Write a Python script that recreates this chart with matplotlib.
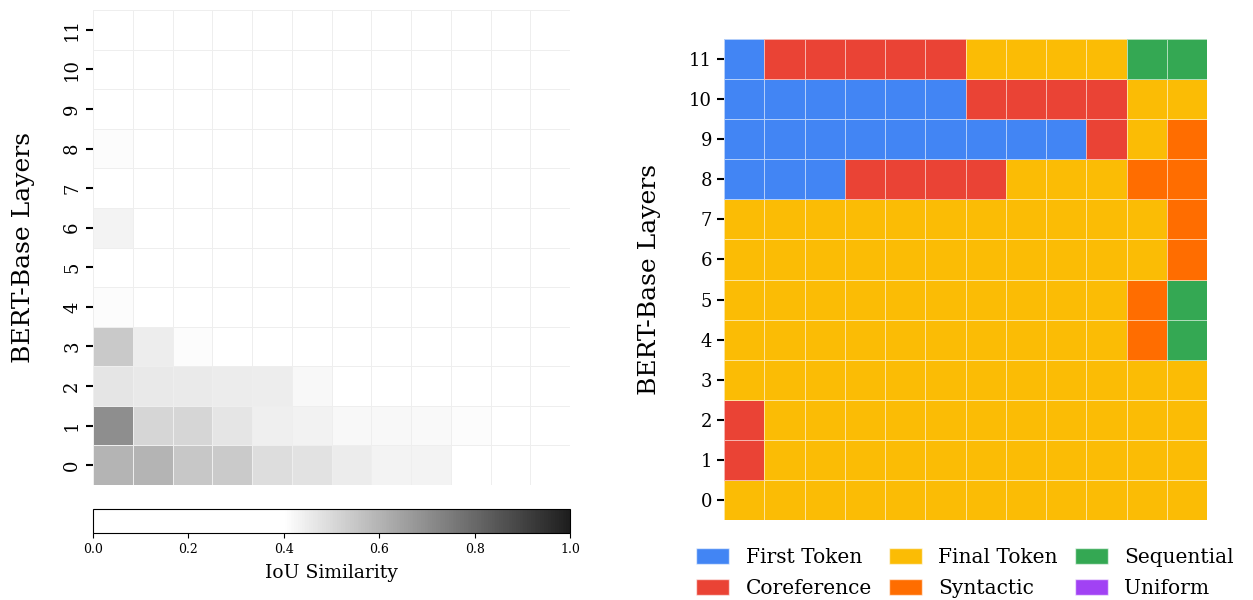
import numpy as np
import matplotlib
matplotlib.use("Agg")
import matplotlib.pyplot as plt
from matplotlib.colors import LinearSegmentedColormap, ListedColormap, BoundaryNorm
from matplotlib.patches import Patch

plt.rcParams["font.family"] = "DejaVu Serif"

layers = list(range(12))

# IoU similarity per layer (rows 0..11) and head bucket (cols 0..11)
iou = np.array([
    [0.60, 0.60, 0.55, 0.54, 0.49, 0.48, 0.45, 0.43, 0.43, 0.30, 0.25, 0.20],  # 0
    [0.70, 0.51, 0.51, 0.47, 0.445, 0.435, 0.42, 0.42, 0.415, 0.41, 0.30, 0.25],  # 1
    [0.47, 0.46, 0.455, 0.453, 0.448, 0.42, 0.30, 0.25, 0.20, 0.15, 0.10, 0.10],  # 2
    [0.545, 0.447, 0.41, 0.30, 0.25, 0.20, 0.15, 0.10, 0.10, 0.05, 0.05, 0.05],  # 3
    [0.41, 0.20, 0.10, 0.05, 0.05, 0.05, 0.05, 0.0, 0.0, 0.0, 0.0, 0.0],  # 4
    [0.30, 0.10, 0.05, 0.0, 0.0, 0.0, 0.0, 0.0, 0.0, 0.0, 0.0, 0.0],  # 5
    [0.43, 0.20, 0.10, 0.05, 0.0, 0.0, 0.0, 0.0, 0.0, 0.0, 0.0, 0.0],  # 6
    [0.30, 0.10, 0.05, 0.0, 0.0, 0.0, 0.0, 0.0, 0.0, 0.0, 0.0, 0.0],  # 7
    [0.41, 0.10, 0.05, 0.0, 0.0, 0.0, 0.0, 0.0, 0.0, 0.0, 0.0, 0.0],  # 8
    [0.20, 0.05, 0.0, 0.0, 0.0, 0.0, 0.0, 0.0, 0.0, 0.0, 0.0, 0.0],  # 9
    [0.20, 0.05, 0.0, 0.0, 0.0, 0.0, 0.0, 0.0, 0.0, 0.0, 0.0, 0.0],  # 10
    [0.15, 0.05, 0.0, 0.0, 0.0, 0.0, 0.0, 0.0, 0.0, 0.0, 0.0, 0.0],  # 11
])

# dominant pattern per layer / head
pattern_names = ["First Token", "Coreference", "Final Token", "Syntactic", "Sequential", "Uniform"]
pattern_colors = ["#4285F4", "#EA4335", "#FBBC05", "#FF6D00", "#34A853", "#A142F4"]
B, R, Y, O, G = 0, 1, 2, 3, 4
patterns = np.array([
    [Y, Y, Y, Y, Y, Y, Y, Y, Y, Y, Y, Y],  # 0
    [R, Y, Y, Y, Y, Y, Y, Y, Y, Y, Y, Y],  # 1
    [R, Y, Y, Y, Y, Y, Y, Y, Y, Y, Y, Y],  # 2
    [Y, Y, Y, Y, Y, Y, Y, Y, Y, Y, Y, Y],  # 3
    [Y, Y, Y, Y, Y, Y, Y, Y, Y, Y, O, G],  # 4
    [Y, Y, Y, Y, Y, Y, Y, Y, Y, Y, O, G],  # 5
    [Y, Y, Y, Y, Y, Y, Y, Y, Y, Y, Y, O],  # 6
    [Y, Y, Y, Y, Y, Y, Y, Y, Y, Y, Y, O],  # 7
    [B, B, B, R, R, R, R, Y, Y, Y, O, O],  # 8
    [B, B, B, B, B, B, B, B, B, R, Y, O],  # 9
    [B, B, B, B, B, B, R, R, R, R, Y, Y],  # 10
    [B, R, R, R, R, R, Y, Y, Y, Y, G, G],  # 11
])

W, H = 1253, 600
fig = plt.figure(figsize=(W / 100, H / 100), dpi=100)


def box(x0, y0, x1, y1):
    return [x0 / W, 1 - y1 / H, (x1 - x0) / W, (y1 - y0) / H]


# left: IoU heatmap
ax1 = fig.add_axes(box(93, 10, 570, 485))
iou_cmap = LinearSegmentedColormap.from_list(
    "iou", [(0.0, "white"), (0.4, "white"), (1.0, "#1e1e1e")])
mesh = ax1.pcolormesh(iou, cmap=iou_cmap, vmin=0, vmax=1,
                      edgecolors="#eeeeee", linewidth=0.6)
ax1.set_xlim(0, 12); ax1.set_ylim(0, 12)
ax1.set_xticks([])
ax1.set_yticks(np.arange(12) + 0.5)
ax1.set_yticklabels(layers, rotation=90, va="center", fontsize=13)
ax1.tick_params(axis="y", length=5, width=1.5)
for s in ax1.spines.values():
    s.set_visible(False)
ax1.set_ylabel("BERT-Base Layers", fontsize=18, labelpad=20)

cax = fig.add_axes(box(93, 509, 570, 533))
cb = fig.colorbar(mesh, cax=cax, orientation="horizontal")
cb.set_ticks([0.0, 0.2, 0.4, 0.6, 0.8, 1.0])
cb.ax.tick_params(labelsize=9)
cb.set_label("IoU Similarity", fontsize=13.5, labelpad=6)

# right: dominant attention pattern
ax2 = fig.add_axes(box(724, 39, 1207, 520))
pat_cmap = ListedColormap(pattern_colors)
pat_norm = BoundaryNorm(np.arange(-0.5, len(pattern_colors)), pat_cmap.N)
ax2.pcolormesh(patterns, cmap=pat_cmap, norm=pat_norm,
               edgecolors=(1, 1, 1, 0.6), linewidth=0.6)
ax2.set_xlim(0, 12); ax2.set_ylim(0, 12)
ax2.set_xticks([])
ax2.set_yticks(np.arange(12) + 0.5)
ax2.set_yticklabels(layers, fontsize=13)
ax2.tick_params(axis="y", length=5, width=1.5)
for s in ax2.spines.values():
    s.set_visible(False)
ax2.set_ylabel("BERT-Base Layers", fontsize=18, labelpad=20)

handles = [Patch(facecolor=c, edgecolor=(1, 1, 1, 0.6), label=n)
           for n, c in zip(pattern_names, pattern_colors)]
fig.legend(handles=handles, ncol=3, frameon=False, fontsize=14.5,
           loc="center", bbox_to_anchor=(965 / W, 1 - 573 / H),
           handlelength=1.65, handleheight=0.8, columnspacing=0.85,
           handletextpad=0.8, labelspacing=0.6, borderaxespad=0)

fig.savefig("out.png", dpi=100)
